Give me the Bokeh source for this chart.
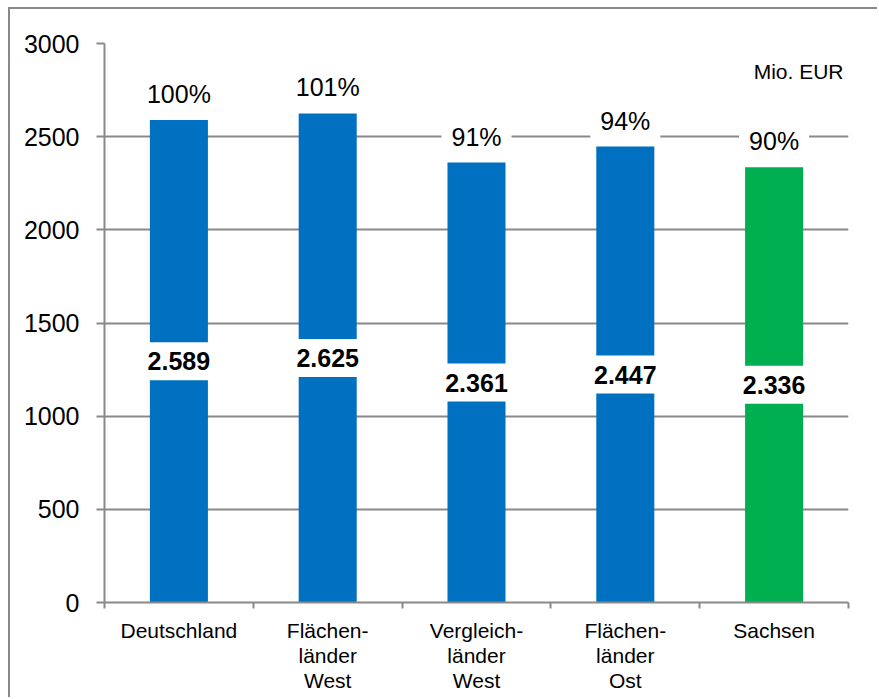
from bokeh.plotting import figure
from bokeh.models import ColumnDataSource, Label, FixedTicker, Range1d
from bokeh.core.properties import value
from bokeh.embed import file_html
from bokeh.resources import INLINE

categories = ["Deutschland", "Flächen-\nländer\nWest", "Vergleich-\nländer\nWest", "Flächen-\nländer\nOst", "Sachsen"]
values = [2589, 2625, 2361, 2447, 2336]
percents = [100, 101, 91, 94, 90]
colors = ["#0070C0", "#0070C0", "#0070C0", "#0070C0", "#00B050"]
y_ticks = [0, 500, 1000, 1500, 2000, 2500, 3000]
unit_label = "Mio. EUR"

FONT = "Liberation Sans"
GRAY = "#898989"

xs = [i + 0.5 for i in range(len(categories))]
src = ColumnDataSource(dict(
    x=xs,
    top=values,
    mid=[v / 2 for v in values],
    color=colors,
    vlab=[f"{v:,}".replace(",", ".") for v in values],
    plab=[f"{p}%" for p in percents],
))

p = figure(width=869, height=690, output_backend="svg", toolbar_location=None,
           x_range=Range1d(0, len(categories)), y_range=Range1d(0, 3000),
           min_border_left=94, min_border_top=34, min_border_right=31, min_border_bottom=97)
p.styles = {"margin-left": "8px", "margin-top": "7px",
            "border-left": f"2px solid {GRAY}", "border-top": f"2px solid {GRAY}"}
p.outline_line_color = None
p.background_fill_color = "white"
p.border_fill_color = "white"

p.vbar(x="x", top="top", width=0.39, color="color", line_color=None, source=src)

# grid
p.xgrid.grid_line_color = None
p.ygrid.grid_line_color = GRAY
p.ygrid.grid_line_width = 2
p.ygrid.ticker = FixedTicker(ticks=y_ticks)

# y axis
p.yaxis.ticker = FixedTicker(ticks=y_ticks)
p.yaxis.axis_line_color = GRAY
p.yaxis.axis_line_width = 2
p.yaxis.major_tick_line_color = GRAY
p.yaxis.major_tick_line_width = 2
p.yaxis.major_tick_out = 8
p.yaxis.major_tick_in = 0
p.yaxis.minor_tick_line_color = None
p.yaxis.major_label_text_font = FONT
p.yaxis.major_label_text_font_size = "25px"
p.yaxis.major_label_text_color = "black"
p.yaxis.major_label_standoff = 17

# x axis
p.xaxis.ticker = FixedTicker(ticks=xs, minor_ticks=list(range(len(categories) + 1)))
p.xaxis.major_label_overrides = {x: c for x, c in zip(xs, categories)}
p.xaxis.axis_line_color = GRAY
p.xaxis.axis_line_width = 2
p.xaxis.major_tick_line_color = None
p.xaxis.major_tick_out = 0
p.xaxis.major_tick_in = 0
p.xaxis.minor_tick_line_color = GRAY
p.xaxis.minor_tick_line_width = 2
p.xaxis.minor_tick_out = 6
p.xaxis.minor_tick_in = 0
p.xaxis.major_label_text_font = FONT
p.xaxis.major_label_text_font_size = "21px"
p.xaxis.major_label_text_line_height = 1.1
p.xaxis.major_label_text_color = "black"
p.xaxis.major_label_standoff = 10

p.text(x="x", y="mid", text="vlab", source=src, text_align="center", text_baseline="middle",
       text_font=value(FONT), text_font_size="25px", text_font_style="bold", text_color="black",
       background_fill_color="white", padding=10)

p.text(x="x", y="top", text="plab", source=src, text_align="center", text_baseline="middle",
       y_offset=-26, text_font=value(FONT), text_font_size="25px", text_color="black",
       background_fill_color="white", padding=10)

p.add_layout(Label(x=len(categories), y=3000, text=unit_label, text_align="right", text_baseline="top",
                   x_offset=-5, y_offset=-16, text_font=FONT, text_font_size="21px", text_color="black"))

open("out.html", "w").write(file_html(p, INLINE))
